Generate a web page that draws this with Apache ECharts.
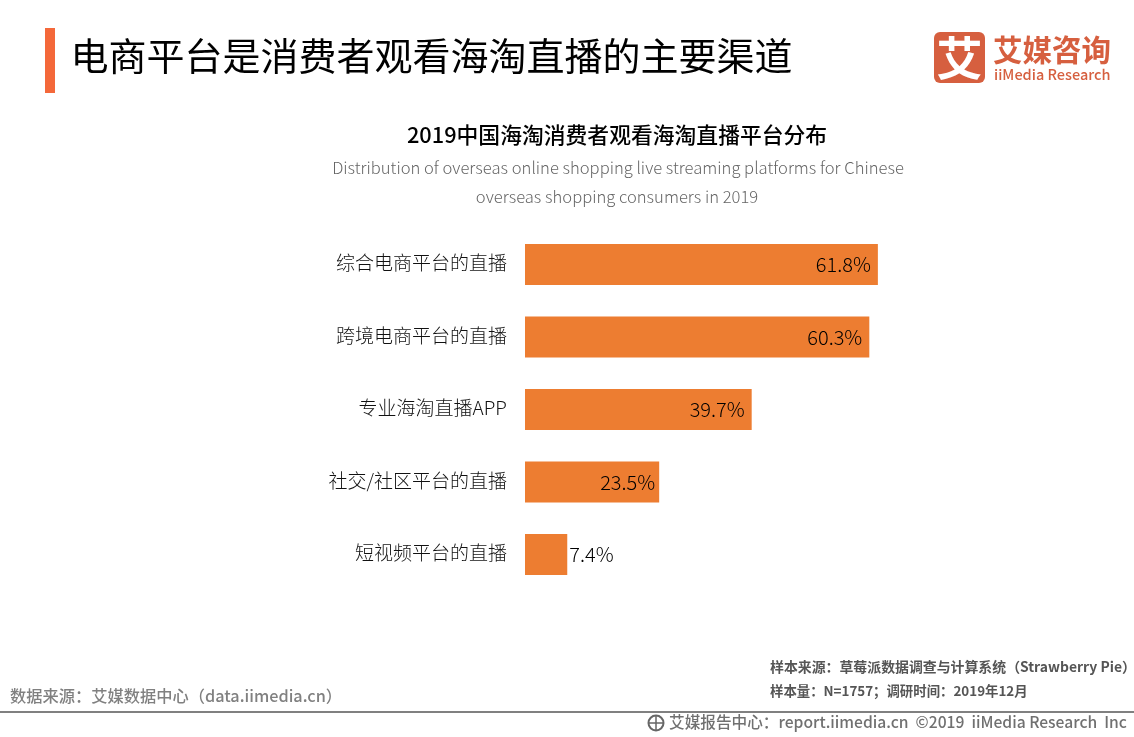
<!DOCTYPE html>
<html><head><meta charset="utf-8">
<style>html,body{margin:0;padding:0;background:#fff}#c{width:1134px;height:737px}</style>
<script src="https://cdn.jsdelivr.net/npm/echarts@6/dist/echarts.min.js"></script>
</head><body><div id="c"></div>
<script>
const categories = ['综合电商平台的直播','跨境电商平台的直播','专业海淘直播APP','社交/社区平台的直播','短视频平台的直播'];
const values = [61.8,60.3,39.7,23.5,7.4];
const FONT = '"Noto Sans CJK SC","Noto Sans",sans-serif';
const c = (x,y,text,size,fill,extra)=>({type:'text',x,y,style:Object.assign({text,fontSize:size,fill,fontFamily:FONT,textAlign:'center',textVerticalAlign:'middle'},extra||{})});
const l = (x,y,text,size,fill,extra)=>({type:'text',x,y,style:Object.assign({text,fontSize:size,fill,fontFamily:FONT,textAlign:'left',textVerticalAlign:'middle'},extra||{})});
const chart = echarts.init(document.getElementById('c'),null,{renderer:'canvas'});
const barData = values.map((v,i)=>v<10?{value:v,label:{position:'right',distance:2}}:(i===3?{value:v,label:{distance:4}}:v));
chart.setOption({
  animation:false,
  backgroundColor:'#fff',
  grid:{left:525,top:228.2,width:571,height:362.5},
  xAxis:{type:'value',min:0,max:100,show:false},
  yAxis:{type:'category',inverse:true,data:categories,
    axisLine:{show:false},axisTick:{show:false},
    axisLabel:{color:'#111',fontSize:19,fontFamily:FONT,margin:18,fontWeight:300,verticalAlign:'bottom',lineHeight:3}},
  series:[{type:'bar',data:barData,barWidth:41,itemStyle:{color:'#ED7D31'},
    label:{show:true,fontSize:20,color:'#000',fontFamily:FONT,fontWeight:300,
      formatter:p=>p.value+'%',
      position:'insideRight',distance:7}}],
  graphic:[
    {type:'rect',shape:{x:45,y:28,width:10,height:65},style:{fill:'#F4683A'}},
    l(70.5,56,'电商平台是消费者观看海淘直播的主要渠道',38,'#000'),
    c(617,135,'2019中国海淘消费者观看海淘直播平台分布',21.8,'#000',{fontWeight:500}),
    c(618,168,'Distribution of overseas online shopping live streaming platforms for Chinese',16.6,'#666',{fontWeight:300}),
    c(617,197,'overseas shopping consumers in 2019',16.6,'#666',{fontWeight:300}),
    {type:'rect',shape:{x:934,y:32,width:51,height:51,r:6},style:{fill:'#D65F3F'}},
    c(959.5,58,'艾',46,'#fff',{fontWeight:700}),
    l(993,50,'艾媒咨询',29.5,'#D65F3F',{fontWeight:700}),
    l(994,74,'iiMedia Research',14.5,'#D65F3F',{fontWeight:500}),
    l(10,696,'数据来源：艾媒数据中心（data.iimedia.cn）',16.25,'#808080',{fontWeight:500}),
    l(770,667,'样本来源：草莓派数据调查与计算系统（Strawberry Pie）',13.9,'#555',{fontWeight:700}),
    l(770,691,'样本量：N=1757；调研时间：2019年12月',13.4,'#555',{fontWeight:700}),
    {type:'rect',shape:{x:0,y:711,width:1134,height:2},style:{fill:'#808080'}},
    {type:'circle',shape:{cx:656,cy:723,r:7.5},style:{fill:'none',stroke:'#666',lineWidth:2}},
    {type:'line',shape:{x1:649,y1:723,x2:663,y2:723},style:{stroke:'#666',lineWidth:1.5}},
    {type:'line',shape:{x1:656,y1:716,x2:656,y2:730},style:{stroke:'#666',lineWidth:1.5}},
    l(669,722.5,'艾媒报告中心：report.iimedia.cn  ©2019  iiMedia Research  Inc',15.65,'#707070',{fontWeight:500})
  ]
});
</script></body></html>
